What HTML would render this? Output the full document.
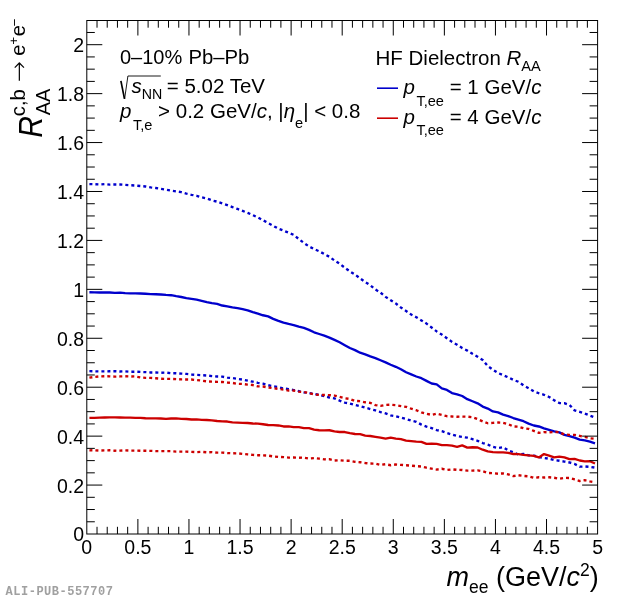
<!DOCTYPE html>
<html><head><meta charset="utf-8"><title>HF Dielectron RAA</title>
<style>
html,body{margin:0;padding:0;background:#fff;}
svg{display:block;font-family:"Liberation Sans",sans-serif;fill:#000;}
.i{font-style:italic;}
</style></head><body>
<svg width="620" height="600" viewBox="0 0 620 600">
<rect width="620" height="600" fill="#fff"/>
<g fill="none" stroke-linejoin="round">
<path d="M89.4,292.27 L94.5,292.40 L99.6,292.51 L104.7,292.46 L109.8,292.50 L114.9,292.85 L120.0,292.66 L125.1,293.18 L130.2,293.32 L135.3,293.37 L140.4,293.48 L145.5,293.76 L150.7,294.06 L155.8,294.25 L160.9,294.46 L166.0,294.93 L171.1,295.22 L176.2,296.21 L181.3,297.02 L186.4,298.11 L191.5,298.88 L196.6,299.68 L201.7,300.90 L206.8,302.12 L211.9,303.19 L217.1,303.91 L222.2,305.53 L227.3,306.34 L232.4,307.45 L237.5,308.07 L242.6,309.04 L247.7,310.31 L252.8,312.18 L257.9,313.63 L263.0,315.27 L268.1,316.39 L273.2,318.87 L278.4,320.80 L283.5,322.55 L288.6,323.97 L293.7,325.06 L298.8,326.65 L303.9,327.95 L309.0,329.84 L314.1,332.28 L319.2,333.99 L324.3,335.65 L329.4,337.58 L334.5,339.85 L339.6,342.23 L344.8,345.15 L349.9,348.03 L355.0,350.08 L360.1,352.70 L365.2,354.38 L370.3,356.42 L375.4,358.09 L380.5,360.23 L385.6,362.34 L390.7,364.74 L395.8,366.79 L400.9,369.20 L406.1,372.24 L411.2,374.36 L416.3,376.49 L421.4,378.19 L426.5,380.88 L431.6,383.47 L436.7,384.42 L441.8,388.45 L446.9,389.88 L452.0,393.08 L457.1,394.30 L462.2,396.01 L467.3,399.13 L472.5,401.25 L477.6,403.32 L482.7,406.58 L487.8,408.53 L492.9,411.45 L498.0,412.36 L503.1,414.61 L508.2,416.03 L513.3,418.01 L518.4,419.63 L523.5,421.22 L528.6,423.61 L533.8,425.52 L538.9,426.47 L544.0,428.40 L549.1,429.97 L554.2,431.42 L559.3,432.39 L564.4,434.90 L569.5,436.06 L574.6,437.72 L579.7,439.62 L584.8,440.40 L589.9,441.56 L595.0,443.34" stroke="#0000cc" stroke-width="2.35"/>
<path d="M89.4,184.12 L94.5,184.24 L99.6,184.45 L104.7,184.08 L109.8,184.64 L114.9,184.46 L120.0,184.49 L125.1,184.86 L130.2,185.19 L135.3,185.52 L140.4,186.02 L145.5,186.46 L150.7,187.42 L155.8,188.02 L160.9,188.88 L166.0,189.62 L171.1,190.62 L176.2,191.41 L181.3,192.14 L186.4,193.61 L191.5,194.81 L196.6,195.77 L201.7,197.30 L206.8,198.43 L211.9,200.34 L217.1,201.63 L222.2,203.40 L227.3,205.17 L232.4,207.12 L237.5,208.96 L242.6,210.87 L247.7,212.91 L252.8,215.15 L257.9,217.47 L263.0,220.25 L268.1,223.05 L273.2,225.85 L278.4,228.64 L283.5,230.60 L288.6,232.70 L293.7,234.86 L298.8,239.05 L303.9,242.94 L309.0,246.45 L314.1,249.03 L319.2,251.26 L324.3,254.04 L329.4,256.79 L334.5,260.48 L339.6,263.70 L344.8,267.71 L349.9,271.42 L355.0,274.52 L360.1,278.43 L365.2,282.06 L370.3,285.31 L375.4,289.47 L380.5,292.60 L385.6,296.87 L390.7,300.21 L395.8,303.45 L400.9,307.56 L406.1,310.96 L411.2,314.58 L416.3,317.23 L421.4,320.38 L426.5,323.59 L431.6,327.51 L436.7,331.42 L441.8,334.61 L446.9,338.21 L452.0,341.88 L457.1,344.74 L462.2,348.10 L467.3,350.58 L472.5,353.86 L477.6,356.81 L482.7,359.96 L487.8,366.09 L492.9,369.65 L498.0,373.02 L503.1,375.09 L508.2,377.34 L513.3,379.89 L518.4,381.74 L523.5,385.35 L528.6,388.16 L533.8,391.37 L538.9,393.26 L544.0,394.79 L549.1,397.00 L554.2,400.35 L559.3,403.01 L564.4,403.23 L569.5,404.92 L574.6,410.35 L579.7,411.85 L584.8,413.57 L589.9,415.57 L595.0,417.46" stroke="#0000cc" stroke-width="2.35" stroke-dasharray="3 3"/>
<path d="M89.4,371.14 L94.5,371.28 L99.6,371.44 L104.7,371.44 L109.8,371.21 L114.9,371.20 L120.0,371.50 L125.1,371.32 L130.2,371.75 L135.3,371.71 L140.4,371.92 L145.5,372.15 L150.7,372.46 L155.8,372.53 L160.9,372.76 L166.0,372.60 L171.1,373.25 L176.2,373.26 L181.3,373.63 L186.4,373.91 L191.5,374.48 L196.6,374.91 L201.7,375.18 L206.8,375.51 L211.9,376.08 L217.1,376.49 L222.2,376.63 L227.3,377.58 L232.4,378.09 L237.5,378.82 L242.6,379.59 L247.7,380.63 L252.8,381.71 L257.9,382.79 L263.0,383.61 L268.1,385.19 L273.2,386.26 L278.4,387.09 L283.5,388.48 L288.6,389.11 L293.7,390.05 L298.8,391.11 L303.9,392.31 L309.0,393.00 L314.1,393.88 L319.2,394.89 L324.3,396.23 L329.4,397.49 L334.5,398.41 L339.6,400.62 L344.8,402.58 L349.9,403.51 L355.0,404.85 L360.1,406.13 L365.2,407.61 L370.3,409.06 L375.4,410.33 L380.5,412.01 L385.6,413.47 L390.7,415.44 L395.8,416.23 L400.9,417.60 L406.1,419.00 L411.2,420.61 L416.3,421.88 L421.4,424.64 L426.5,426.55 L431.6,428.18 L436.7,430.05 L441.8,431.19 L446.9,433.05 L452.0,434.61 L457.1,436.05 L462.2,436.91 L467.3,437.66 L472.5,439.22 L477.6,440.84 L482.7,443.02 L487.8,444.55 L492.9,446.80 L498.0,447.96 L503.1,447.23 L508.2,450.34 L513.3,452.22 L518.4,454.52 L523.5,453.95 L528.6,455.35 L533.8,455.61 L538.9,457.10 L544.0,457.94 L549.1,458.74 L554.2,460.17 L559.3,460.74 L564.4,461.54 L569.5,462.49 L574.6,463.95 L579.7,466.68 L584.8,466.49 L589.9,466.80 L595.0,467.63" stroke="#0000cc" stroke-width="2.35" stroke-dasharray="3 3"/>
<path d="M89.4,417.89 L94.5,417.80 L99.6,417.58 L104.7,417.51 L109.8,417.45 L114.9,417.41 L120.0,417.48 L125.1,417.59 L130.2,417.63 L135.3,417.94 L140.4,417.88 L145.5,418.27 L150.7,418.30 L155.8,418.38 L160.9,418.54 L166.0,418.86 L171.1,418.53 L176.2,418.44 L181.3,418.82 L186.4,419.00 L191.5,419.51 L196.6,419.44 L201.7,419.84 L206.8,420.03 L211.9,420.34 L217.1,420.99 L222.2,421.34 L227.3,421.54 L232.4,422.37 L237.5,422.60 L242.6,422.82 L247.7,422.96 L252.8,423.50 L257.9,423.67 L263.0,424.28 L268.1,425.02 L273.2,425.11 L278.4,425.47 L283.5,426.47 L288.6,426.31 L293.7,427.15 L298.8,427.09 L303.9,428.10 L309.0,428.17 L314.1,429.63 L319.2,430.23 L324.3,430.35 L329.4,430.26 L334.5,431.31 L339.6,431.96 L344.8,432.03 L349.9,433.16 L355.0,433.98 L360.1,434.17 L365.2,435.55 L370.3,436.00 L375.4,436.82 L380.5,437.58 L385.6,438.57 L390.7,437.67 L395.8,438.61 L400.9,439.19 L406.1,440.58 L411.2,441.09 L416.3,441.58 L421.4,441.90 L426.5,443.90 L431.6,443.65 L436.7,443.80 L441.8,445.05 L446.9,445.09 L452.0,445.69 L457.1,446.79 L462.2,445.35 L467.3,447.58 L472.5,447.29 L477.6,447.48 L482.7,449.72 L487.8,451.31 L492.9,452.07 L498.0,452.38 L503.1,452.34 L508.2,452.83 L513.3,454.04 L518.4,454.16 L523.5,454.85 L528.6,455.42 L533.8,455.84 L538.9,457.41 L544.0,454.07 L549.1,455.62 L554.2,457.34 L559.3,456.67 L564.4,457.35 L569.5,459.10 L574.6,458.82 L579.7,460.50 L584.8,461.38 L589.9,461.23 L595.0,463.51" stroke="#cc0000" stroke-width="2.35"/>
<path d="M89.4,377.66 L94.5,376.91 L99.6,376.40 L104.7,376.28 L109.8,376.30 L114.9,376.61 L120.0,376.44 L125.1,376.25 L130.2,376.48 L135.3,376.42 L140.4,377.38 L145.5,377.88 L150.7,377.92 L155.8,378.28 L160.9,378.74 L166.0,378.86 L171.1,378.94 L176.2,379.11 L181.3,379.43 L186.4,379.46 L191.5,379.54 L196.6,380.06 L201.7,380.61 L206.8,381.33 L211.9,381.68 L217.1,381.86 L222.2,382.02 L227.3,382.52 L232.4,382.90 L237.5,383.83 L242.6,383.97 L247.7,384.60 L252.8,385.03 L257.9,386.37 L263.0,386.52 L268.1,387.42 L273.2,388.19 L278.4,388.85 L283.5,389.56 L288.6,390.55 L293.7,390.53 L298.8,391.60 L303.9,392.05 L309.0,392.95 L314.1,394.40 L319.2,394.95 L324.3,395.03 L329.4,395.08 L334.5,395.57 L339.6,396.90 L344.8,398.23 L349.9,398.96 L355.0,400.95 L360.1,401.17 L365.2,402.28 L370.3,402.88 L375.4,405.09 L380.5,405.85 L385.6,404.90 L390.7,404.69 L395.8,405.12 L400.9,406.05 L406.1,406.86 L411.2,408.72 L416.3,410.24 L421.4,412.38 L426.5,413.74 L431.6,414.86 L436.7,413.68 L441.8,414.91 L446.9,416.21 L452.0,416.46 L457.1,416.78 L462.2,416.56 L467.3,416.67 L472.5,417.24 L477.6,419.12 L482.7,421.36 L487.8,423.23 L492.9,422.88 L498.0,422.53 L503.1,422.80 L508.2,424.12 L513.3,426.43 L518.4,426.73 L523.5,428.27 L528.6,428.91 L533.8,430.91 L538.9,432.82 L544.0,432.14 L549.1,432.35 L554.2,431.97 L559.3,432.19 L564.4,434.48 L569.5,434.86 L574.6,434.86 L579.7,435.90 L584.8,436.95 L589.9,438.24 L595.0,438.74" stroke="#cc0000" stroke-width="2.35" stroke-dasharray="3 3"/>
<path d="M89.4,450.31 L94.5,450.28 L99.6,450.56 L104.7,450.44 L109.8,450.28 L114.9,450.71 L120.0,450.65 L125.1,450.36 L130.2,450.55 L135.3,450.55 L140.4,450.79 L145.5,450.73 L150.7,450.84 L155.8,451.11 L160.9,451.15 L166.0,451.13 L171.1,451.11 L176.2,451.57 L181.3,451.59 L186.4,451.61 L191.5,451.93 L196.6,452.12 L201.7,451.85 L206.8,452.30 L211.9,452.11 L217.1,452.65 L222.2,452.59 L227.3,453.02 L232.4,453.28 L237.5,453.35 L242.6,453.87 L247.7,454.42 L252.8,454.90 L257.9,455.25 L263.0,455.34 L268.1,455.60 L273.2,456.39 L278.4,456.92 L283.5,457.07 L288.6,457.59 L293.7,457.46 L298.8,457.79 L303.9,457.60 L309.0,458.47 L314.1,458.10 L319.2,458.65 L324.3,459.33 L329.4,459.20 L334.5,460.50 L339.6,460.20 L344.8,460.70 L349.9,460.77 L355.0,461.79 L360.1,462.22 L365.2,462.98 L370.3,463.54 L375.4,463.56 L380.5,464.87 L385.6,464.23 L390.7,465.24 L395.8,464.50 L400.9,464.86 L406.1,465.24 L411.2,465.64 L416.3,466.18 L421.4,466.53 L426.5,467.73 L431.6,468.70 L436.7,469.56 L441.8,468.74 L446.9,470.00 L452.0,469.35 L457.1,469.86 L462.2,469.97 L467.3,470.67 L472.5,470.59 L477.6,470.42 L482.7,471.17 L487.8,472.89 L492.9,473.17 L498.0,473.73 L503.1,473.41 L508.2,474.38 L513.3,476.11 L518.4,475.26 L523.5,475.93 L528.6,476.32 L533.8,477.80 L538.9,477.27 L544.0,477.54 L549.1,477.28 L554.2,477.75 L559.3,478.76 L564.4,477.87 L569.5,478.04 L574.6,479.49 L579.7,481.01 L584.8,480.23 L589.9,481.44 L595.0,482.39" stroke="#cc0000" stroke-width="2.35" stroke-dasharray="3 3"/>
</g>
<g fill="none" stroke="#000" stroke-width="1">
<rect x="86.8" y="20.5" width="510.8" height="513.5"/>
<path d="M97.02,534.0 v-7.2 M97.02,20.5 v7.2 M107.23,534.0 v-7.2 M107.23,20.5 v7.2 M117.45,534.0 v-7.2 M117.45,20.5 v7.2 M127.66,534.0 v-7.2 M127.66,20.5 v7.2 M137.88,534.0 v-15 M137.88,20.5 v15 M148.10,534.0 v-7.2 M148.10,20.5 v7.2 M158.31,534.0 v-7.2 M158.31,20.5 v7.2 M168.53,534.0 v-7.2 M168.53,20.5 v7.2 M178.74,534.0 v-7.2 M178.74,20.5 v7.2 M188.96,534.0 v-15 M188.96,20.5 v15 M199.18,534.0 v-7.2 M199.18,20.5 v7.2 M209.39,534.0 v-7.2 M209.39,20.5 v7.2 M219.61,534.0 v-7.2 M219.61,20.5 v7.2 M229.82,534.0 v-7.2 M229.82,20.5 v7.2 M240.04,534.0 v-15 M240.04,20.5 v15 M250.26,534.0 v-7.2 M250.26,20.5 v7.2 M260.47,534.0 v-7.2 M260.47,20.5 v7.2 M270.69,534.0 v-7.2 M270.69,20.5 v7.2 M280.90,534.0 v-7.2 M280.90,20.5 v7.2 M291.12,534.0 v-15 M291.12,20.5 v15 M301.34,534.0 v-7.2 M301.34,20.5 v7.2 M311.55,534.0 v-7.2 M311.55,20.5 v7.2 M321.77,534.0 v-7.2 M321.77,20.5 v7.2 M331.98,534.0 v-7.2 M331.98,20.5 v7.2 M342.20,534.0 v-15 M342.20,20.5 v15 M352.42,534.0 v-7.2 M352.42,20.5 v7.2 M362.63,534.0 v-7.2 M362.63,20.5 v7.2 M372.85,534.0 v-7.2 M372.85,20.5 v7.2 M383.06,534.0 v-7.2 M383.06,20.5 v7.2 M393.28,534.0 v-15 M393.28,20.5 v15 M403.50,534.0 v-7.2 M403.50,20.5 v7.2 M413.71,534.0 v-7.2 M413.71,20.5 v7.2 M423.93,534.0 v-7.2 M423.93,20.5 v7.2 M434.14,534.0 v-7.2 M434.14,20.5 v7.2 M444.36,534.0 v-15 M444.36,20.5 v15 M454.58,534.0 v-7.2 M454.58,20.5 v7.2 M464.79,534.0 v-7.2 M464.79,20.5 v7.2 M475.01,534.0 v-7.2 M475.01,20.5 v7.2 M485.22,534.0 v-7.2 M485.22,20.5 v7.2 M495.44,534.0 v-15 M495.44,20.5 v15 M505.66,534.0 v-7.2 M505.66,20.5 v7.2 M515.87,534.0 v-7.2 M515.87,20.5 v7.2 M526.09,534.0 v-7.2 M526.09,20.5 v7.2 M536.30,534.0 v-7.2 M536.30,20.5 v7.2 M546.52,534.0 v-15 M546.52,20.5 v15 M556.74,534.0 v-7.2 M556.74,20.5 v7.2 M566.95,534.0 v-7.2 M566.95,20.5 v7.2 M577.17,534.0 v-7.2 M577.17,20.5 v7.2 M587.38,534.0 v-7.2 M587.38,20.5 v7.2 M86.8,521.77 h8 M597.6,521.77 h-8 M86.8,509.53 h8 M597.6,509.53 h-8 M86.8,497.30 h8 M597.6,497.30 h-8 M86.8,485.07 h15.5 M597.6,485.07 h-15.5 M86.8,472.84 h8 M597.6,472.84 h-8 M86.8,460.61 h8 M597.6,460.61 h-8 M86.8,448.37 h8 M597.6,448.37 h-8 M86.8,436.14 h15.5 M597.6,436.14 h-15.5 M86.8,423.91 h8 M597.6,423.91 h-8 M86.8,411.68 h8 M597.6,411.68 h-8 M86.8,399.44 h8 M597.6,399.44 h-8 M86.8,387.21 h15.5 M597.6,387.21 h-15.5 M86.8,374.98 h8 M597.6,374.98 h-8 M86.8,362.75 h8 M597.6,362.75 h-8 M86.8,350.51 h8 M597.6,350.51 h-8 M86.8,338.28 h15.5 M597.6,338.28 h-15.5 M86.8,326.05 h8 M597.6,326.05 h-8 M86.8,313.81 h8 M597.6,313.81 h-8 M86.8,301.58 h8 M597.6,301.58 h-8 M86.8,289.35 h15.5 M597.6,289.35 h-15.5 M86.8,277.12 h8 M597.6,277.12 h-8 M86.8,264.88 h8 M597.6,264.88 h-8 M86.8,252.65 h8 M597.6,252.65 h-8 M86.8,240.42 h15.5 M597.6,240.42 h-15.5 M86.8,228.19 h8 M597.6,228.19 h-8 M86.8,215.95 h8 M597.6,215.95 h-8 M86.8,203.72 h8 M597.6,203.72 h-8 M86.8,191.49 h15.5 M597.6,191.49 h-15.5 M86.8,179.26 h8 M597.6,179.26 h-8 M86.8,167.02 h8 M597.6,167.02 h-8 M86.8,154.79 h8 M597.6,154.79 h-8 M86.8,142.56 h15.5 M597.6,142.56 h-15.5 M86.8,130.33 h8 M597.6,130.33 h-8 M86.8,118.09 h8 M597.6,118.09 h-8 M86.8,105.86 h8 M597.6,105.86 h-8 M86.8,93.63 h15.5 M597.6,93.63 h-15.5 M86.8,81.40 h8 M597.6,81.40 h-8 M86.8,69.16 h8 M597.6,69.16 h-8 M86.8,56.93 h8 M597.6,56.93 h-8 M86.8,44.70 h15.5 M597.6,44.70 h-15.5 M86.8,32.47 h8 M597.6,32.47 h-8"/>
</g>
<g font-size="19.5px"><text x="86.8" y="554" text-anchor="middle">0</text><text x="137.9" y="554" text-anchor="middle">0.5</text><text x="189.0" y="554" text-anchor="middle">1</text><text x="240.0" y="554" text-anchor="middle">1.5</text><text x="291.1" y="554" text-anchor="middle">2</text><text x="342.2" y="554" text-anchor="middle">2.5</text><text x="393.3" y="554" text-anchor="middle">3</text><text x="444.4" y="554" text-anchor="middle">3.5</text><text x="495.4" y="554" text-anchor="middle">4</text><text x="546.5" y="554" text-anchor="middle">4.5</text><text x="597.6" y="554" text-anchor="middle">5</text><text x="84" y="541.4" text-anchor="end">0</text><text x="84" y="492.5" text-anchor="end">0.2</text><text x="84" y="443.5" text-anchor="end">0.4</text><text x="84" y="394.6" text-anchor="end">0.6</text><text x="84" y="345.7" text-anchor="end">0.8</text><text x="84" y="296.8" text-anchor="end">1</text><text x="84" y="247.8" text-anchor="end">1.2</text><text x="84" y="198.9" text-anchor="end">1.4</text><text x="84" y="150.0" text-anchor="end">1.6</text><text x="84" y="101.0" text-anchor="end">1.8</text><text x="84" y="52.1" text-anchor="end">2</text></g>
<g font-size="20.5px">
<text x="120" y="64" font-size="20px">0–10% <tspan x="188.4" font-size="20.3px">Pb–Pb</tspan></text>
<text x="131.5" y="92.5"><tspan class="i">s</tspan><tspan font-size="14.2px" dy="6">NN</tspan><tspan dy="-6" dx="-1.2"> = 5.02 TeV</tspan></text>
<path d="M120.9,80.9 L124.5,98.8" fill="none" stroke="#000" stroke-width="1.7"/>
<path d="M124.6,99 L127.9,76 H160.8" fill="none" stroke="#000" stroke-width="0.9"/>
<text x="120" y="118.3"><tspan class="i">p</tspan><tspan font-size="14.6px" dy="11.3" dx="1.5">T,e</tspan><tspan dy="-11.3"> &gt; 0.2 GeV/</tspan><tspan class="i">c</tspan>, |<tspan class="i">η</tspan><tspan font-size="14.6px" dy="9.4">e</tspan><tspan dy="-9.4">| &lt; 0.8</tspan></text>
<text x="375.5" y="64.7">HF Dielectron <tspan class="i">R</tspan><tspan font-size="14.6px" dy="5.8">AA</tspan></text>
<text x="403.5" y="94.2"><tspan class="i">p</tspan><tspan font-size="14.6px" dy="11.3" dx="1.5">T,ee</tspan><tspan dy="-11.3"> = 1 GeV/</tspan><tspan class="i">c</tspan></text>
<text x="403.5" y="123.7"><tspan class="i">p</tspan><tspan font-size="14.6px" dy="11.3" dx="1.5">T,ee</tspan><tspan dy="-11.3"> = 4 GeV/</tspan><tspan class="i">c</tspan></text>
</g>
<path d="M377,88.2 h21" stroke="#0000cc" stroke-width="1.6" fill="none"/>
<path d="M377,118.2 h21" stroke="#cc0000" stroke-width="1.6" fill="none"/>
<text x="598.7" y="585.9" text-anchor="end" font-size="27px"><tspan class="i">m</tspan><tspan font-size="17.5px" dy="7.2">ee</tspan><tspan dy="-7.2"> (GeV/</tspan><tspan class="i">c</tspan><tspan font-size="17.5px" dy="-9.5">2</tspan><tspan dy="9.5">)</tspan></text>
<g transform="translate(41.5,137.8) rotate(-90)">
<text x="0" y="0" font-size="31px" class="i" transform="translate(0,0.3) scale(0.97,1.06)">R</text>
<text x="22.5" y="8.6" font-size="20px">AA</text>
<text x="21.6" y="-16.9" font-size="20.3px">c,b</text>
<text x="55.6" y="-14.6" font-size="25px" font-weight="200" font-family="'DejaVu Sans Light','DejaVu Sans','Liberation Sans',sans-serif">→</text>
<text x="82" y="-16.9" font-size="20.3px">e</text>
<text x="93" y="-23.5" font-size="13.5px">+</text>
<text x="101.5" y="-16.9" font-size="20.3px">e</text>
<text x="111.5" y="-23" font-size="13.5px">−</text>
</g>
<text x="5.6" y="595.2" font-family="'Liberation Mono',monospace" font-weight="bold" font-size="12px" letter-spacing="0.5" fill="#a0a0a0">ALI-PUB-557707</text>
</svg>
</body></html>
